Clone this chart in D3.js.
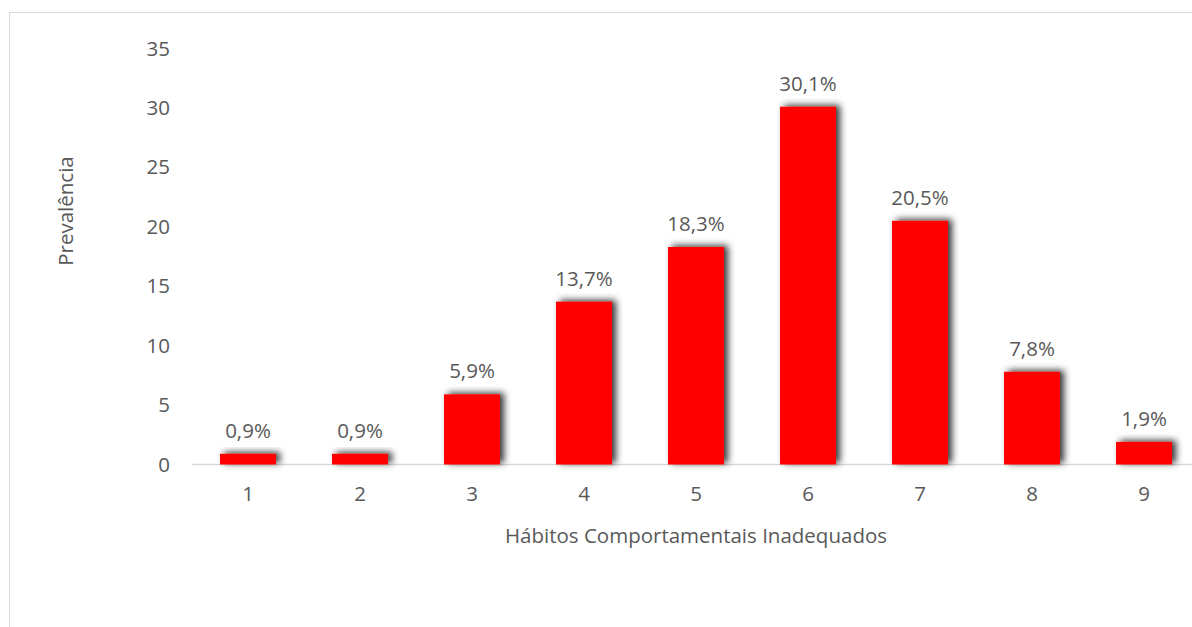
<!DOCTYPE html>
<html><head><meta charset="utf-8">
<script src="https://cdn.jsdelivr.net/npm/d3@7"></script>
<style>body{margin:0;background:#fff}svg{display:block}text{font-family:"Open Sans",sans-serif;fill:#595959}</style>
</head><body>
<script>
const categories = ["1","2","3","4","5","6","7","8","9"];
const values = [0.9,0.9,5.9,13.7,18.3,30.1,20.5,7.8,1.9];
const labels = ["0,9%","0,9%","5,9%","13,7%","18,3%","30,1%","20,5%","7,8%","1,9%"];
const yTicks = [0,5,10,15,20,25,30,35];
const xTitle = "Hábitos Comportamentais Inadequados";
const yTitle = "Prevalência";

const W=1192,H=627,FS=20.5;
const svg=d3.select("body").append("svg").attr("width",W).attr("height",H);
const defs=svg.append("defs");
const f=defs.append("filter").attr("id","sh").attr("x","-30%").attr("y","-60%").attr("width","170%").attr("height","220%");
f.append("feDropShadow").attr("dx",4).attr("dy",-1.5).attr("stdDeviation",3.5).attr("flood-color","#000").attr("flood-opacity",0.8);

svg.append("rect").attr("x",9.5).attr("y",12.5).attr("width",W).attr("height",H).attr("fill","none").attr("stroke","#d9d9d9");

const x=d3.scaleBand().domain(categories).range([192,1200]).paddingInner(0.5).paddingOuter(0.25);
const y=d3.scaleLinear().domain([0,35]).range([464.5,48.5]);

svg.append("line").attr("x1",192).attr("x2",W).attr("y1",y(0)).attr("y2",y(0)).attr("stroke","#d9d9d9").attr("stroke-width",1.5);

svg.append("g").selectAll("rect").data(values).join("rect")
 .attr("x",(d,i)=>x(categories[i])).attr("width",x.bandwidth())
 .attr("y",d=>y(d)).attr("height",d=>y(0)-y(d)).attr("fill","#ff0000").attr("filter","url(#sh)");

svg.append("g").selectAll("text").data(values).join("text")
 .attr("x",(d,i)=>x(categories[i])+x.bandwidth()/2).attr("y",d=>y(d)-16)
 .attr("text-anchor","middle").attr("font-size",FS).text((d,i)=>labels[i]);

const ya=d3.axisLeft(y).tickValues(yTicks).tickSize(0).tickPadding(0);
const gy=svg.append("g").attr("transform","translate(170,0)").call(ya);
gy.select(".domain").remove();
gy.selectAll("text").attr("font-size",FS).attr("font-family","Open Sans").attr("fill","#595959");

const xa=d3.axisBottom(x).tickSize(0).tickPadding(0);
const gx=svg.append("g").attr("transform","translate(0,486)").call(xa);
gx.select(".domain").remove();
gx.selectAll("text").attr("font-size",FS).attr("font-family","Open Sans").attr("fill","#595959").attr("dy","0.71em");

svg.append("text").attr("x",696).attr("y",543).attr("text-anchor","middle").attr("font-size",FS).text(xTitle);
svg.append("text").attr("transform","translate(73,211) rotate(-90)").attr("text-anchor","middle").attr("font-size",FS).text(yTitle);
</script>
</body></html>
